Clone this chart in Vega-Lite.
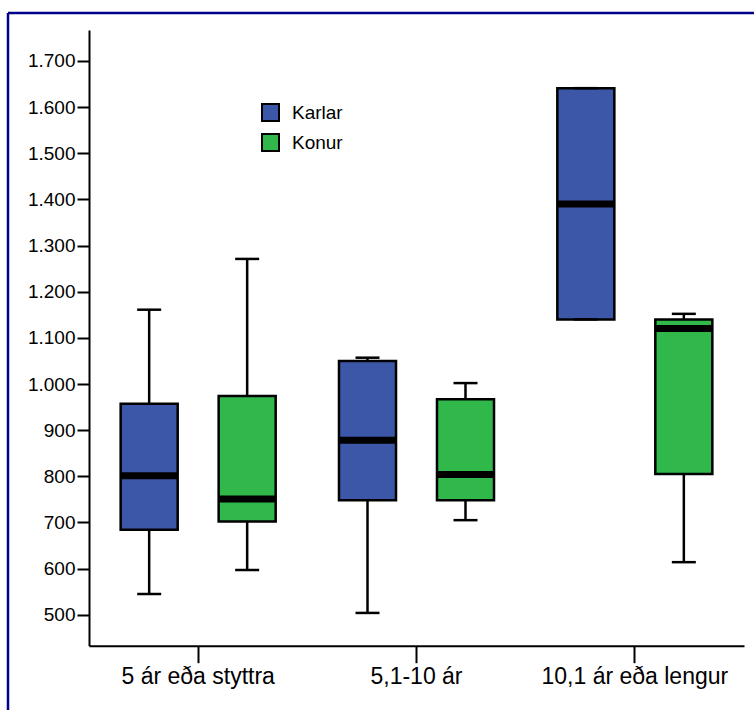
{
  "$schema": "https://vega.github.io/schema/vega-lite/v6.json",
  "autosize": {"type": "none"},
  "padding": {"left": 8, "top": 13, "right": 0, "bottom": 0},
  "width": 746,
  "height": 697,
  "background": "white",
  "config": {
    "view": {"stroke": "#00008B", "strokeWidth": 2.5, "strokeDash": [746, 1443, 697, 0]},
    "font": "Liberation Sans",
    "axis": {"labelFont": "Liberation Sans", "labelColor": "black", "domainColor": "black", "tickColor": "black", "grid": false, "title": null},
    "legend": {"labelFont": "Liberation Sans"}
  },
  "data": {
    "values": [
      {"cat": "5 ár eða styttra", "kyn": "Karlar", "lower": 545, "q1": 684, "median": 801, "q3": 957, "upper": 1161},
      {"cat": "5 ár eða styttra", "kyn": "Konur", "lower": 597, "q1": 702, "median": 751, "q3": 974, "upper": 1271},
      {"cat": "5,1-10 ár", "kyn": "Karlar", "lower": 504, "q1": 748, "median": 878, "q3": 1050, "upper": 1057},
      {"cat": "5,1-10 ár", "kyn": "Konur", "lower": 705, "q1": 748, "median": 804, "q3": 967, "upper": 1002},
      {"cat": "10,1 ár eða lengur", "kyn": "Karlar", "lower": 1140, "q1": 1140, "median": 1390, "q3": 1641, "upper": 1641},
      {"cat": "10,1 ár eða lengur", "kyn": "Konur", "lower": 614, "q1": 805, "median": 1120, "q3": 1140, "upper": 1152}
    ]
  },
  "encoding": {
    "x": {
      "field": "cat", "type": "nominal", "sort": null,
      "scale": {"range": [81, 736], "paddingInner": 0, "paddingOuter": 0},
      "axis": {"orient": "bottom", "offset": -64.3, "labelAngle": 0, "labelFontSize": 23, "labelPadding": 3, "labelLimit": 0, "labelOverlap": false, "tickSize": 17, "tickWidth": 2, "domainWidth": 2}
    },
    "xOffset": {
      "field": "kyn", "type": "nominal", "sort": ["Karlar", "Konur"],
      "scale": {"paddingInner": 0.418, "paddingOuter": 0.323}
    }
  },
  "layer": [
    {
      "mark": {"type": "rule", "color": "black", "strokeWidth": 2.5},
      "encoding": {
        "y": {
          "field": "lower", "type": "quantitative",
          "scale": {"domain": [433, 1767], "range": [632.7, 17], "nice": false, "zero": false},
          "axis": {"orient": "left", "offset": -81, "values": [500, 600, 700, 800, 900, 1000, 1100, 1200, 1300, 1400, 1500, 1600, 1700], "labelExpr": "replace(format(datum.value, ','), ',', '.')", "labelFontSize": 19, "labelPadding": 2, "tickSize": 12, "tickWidth": 2, "domainWidth": 2}
        },
        "y2": {"field": "upper"}
      }
    },
    {
      "mark": {"type": "bar", "stroke": "black", "strokeWidth": 2.5},
      "encoding": {
        "y": {"field": "q1", "type": "quantitative"},
        "y2": {"field": "q3"},
        "color": {
          "field": "kyn", "type": "nominal",
          "scale": {"domain": ["Karlar", "Konur"], "range": ["#3C57A8", "#30B84A"]},
          "legend": {"title": null, "orient": "none", "legendX": 253, "legendY": 90, "padding": 0, "symbolType": "square", "symbolSize": 289, "symbolStrokeColor": "black", "symbolStrokeWidth": 2, "symbolOpacity": 1, "labelFontSize": 19, "labelColor": "black", "labelOffset": 12, "rowPadding": 5}
        }
      }
    },
    {
      "mark": {"type": "tick", "color": "black", "size": 24, "thickness": 2.5, "opacity": 1},
      "encoding": {"y": {"field": "upper", "type": "quantitative"}}
    },
    {
      "mark": {"type": "tick", "color": "black", "size": 24, "thickness": 2.5, "opacity": 1},
      "encoding": {"y": {"field": "lower", "type": "quantitative"}}
    },
    {
      "mark": {"type": "tick", "color": "black", "size": 57, "thickness": 7, "opacity": 1},
      "encoding": {"y": {"field": "median", "type": "quantitative"}}
    }
  ]
}
